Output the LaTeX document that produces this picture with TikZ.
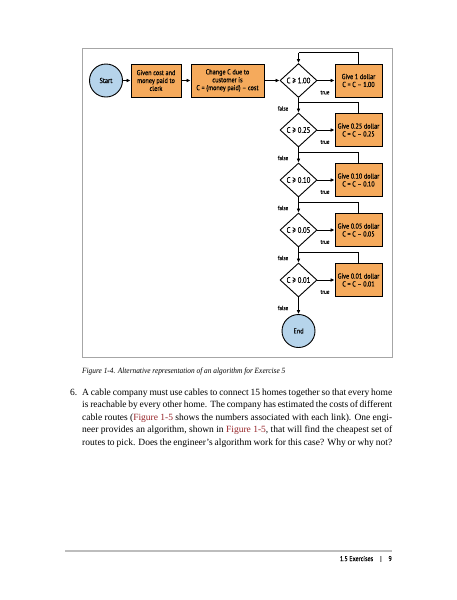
\documentclass[tikz,border=0pt]{standalone}
\usepackage{fontspec}
\setmainfont{Liberation Serif}
\newfontfamily\figfont[FakeStretch=0.86,FakeBold=0.2]{PT Sans}
\newfontfamily\capfont[FakeStretch=0.92]{Liberation Serif}
\usetikzlibrary{shapes.geometric,arrows.meta}
\definecolor{boxorange}{HTML}{F5AA5C}
\definecolor{circblue}{HTML}{B6D4EB}
\definecolor{framegray}{HTML}{A6A6A6}
\definecolor{linkred}{HTML}{97262A}
\definecolor{rulegray}{HTML}{BDBDBD}
\begin{document}
\begin{tikzpicture}[x=1pt,y=-1pt,
  flow/.style={draw=black, line width=0.9pt},
  figtext/.style={font=\figfont\fontsize{7.2}{7.9}\selectfont},
  termnode/.style={circle, flow, fill=circblue, minimum size=33pt, inner sep=0pt, figtext},
  procbox/.style={rectangle, flow, fill=boxorange, minimum height=33pt, inner sep=1pt, align=center, figtext},
  decision/.style={diamond, flow, fill=white, minimum width=37pt, minimum height=34pt, inner sep=0pt, font=\figfont\fontsize{8}{9}\selectfont},
  conn/.style={line width=0.9pt, -{Latex[length=4pt,width=3.8pt]}},
  plainline/.style={line width=0.9pt},
  lbl/.style={font=\figfont\fontsize{6}{7}\selectfont, inner sep=0pt},
  bodytext/.style={inner sep=0pt, font=\fontsize{9.5}{12.5}\selectfont}
]
\useasboundingbox (0,0) rectangle (457,600);
\fill[white] (0,0) rectangle (457,600);
\draw[framegray, line width=0.9pt] (82,48) rectangle (392,357);

\node[termnode] (start) at (106,80.5) {Start};
\node[procbox, minimum width=50pt] (given) at (156,80.5) {Given cost and\\money paid to\\clerk};
\node[procbox, minimum width=73pt] (change) at (227.5,80.5) {Change C due to\\customer is\\C = (money paid) – cost};
\draw[conn] (start) -- (given);
\draw[conn] (given) -- (change);

\foreach \i/\y/\v/\g in {1/80.5/1.00/1, 2/130/0.25/0.25, 3/180/0.10/0.10, 4/230/0.05/0.05, 5/280/0.01/0.01}{
  \node[decision] (d\i) at (298.5,\y) {C ≥ \v};
  \node[procbox, minimum width=47pt] (g\i) at (358.5,\y) {Give \g\ dollar\\C = C – \v};
  \draw[conn] (d\i) -- (g\i);
  \node[lbl] (t\i) at (325,\y+12) {true};
  \node[lbl] (f\i) at (283,\y+28) {false};
  \coordinate (j\i) at (298.5,\y-28);
  \draw[plainline] (g\i.north) |- (j\i);
}
\draw[conn] (change) -- (d1);
\draw[conn] (j1) -- (d1.north);
\draw[conn] (d1.south) -- (d2.north);
\draw[conn] (d2.south) -- (d3.north);
\draw[conn] (d3.south) -- (d4.north);
\draw[conn] (d4.south) -- (d5.north);
\node[termnode] (end) at (298.5,331) {End};
\draw[conn] (d5.south) -- (end.north);

\node[anchor=base west, inner sep=0pt, font=\capfont\itshape\fontsize{8}{9}\selectfont] (cap) at (82,373) {Figure 1-4. Alternative representation of an algorithm for Exercise 5};

\node[bodytext, anchor=base west] (num) at (70,395) {6.};
\node[bodytext, anchor=base west, text width=310pt, align=justify] (para) at (82,395) {\parfillskip=0pt\hyphenpenalty=10000\emergencystretch=20pt
A cable company must use cables to connect 15 homes together so that every home\linebreak
is reachable by every other home. The company has estimated the costs of different\linebreak
cable routes ({\color{linkred}Figure 1-5} shows the numbers associated with each link). One engi-\linebreak
neer provides an algorithm, shown in {\color{linkred}Figure 1-5}, that will find the cheapest set of\linebreak
routes to pick. Does the engineer’s algorithm work for this case? Why or why not?};

\coordinate (rl) at (65,551);
\coordinate (rr) at (392,551);
\draw[rulegray, line width=1.4pt] (rl) -- (rr);
\node[anchor=base east, inner sep=0pt, font=\figfont\fontsize{7}{8}\selectfont] (foot) at (392,561) {1.5 Exercises\hspace{7pt}\textbf{|}\hspace{7pt}9};
\end{tikzpicture}
\end{document}
